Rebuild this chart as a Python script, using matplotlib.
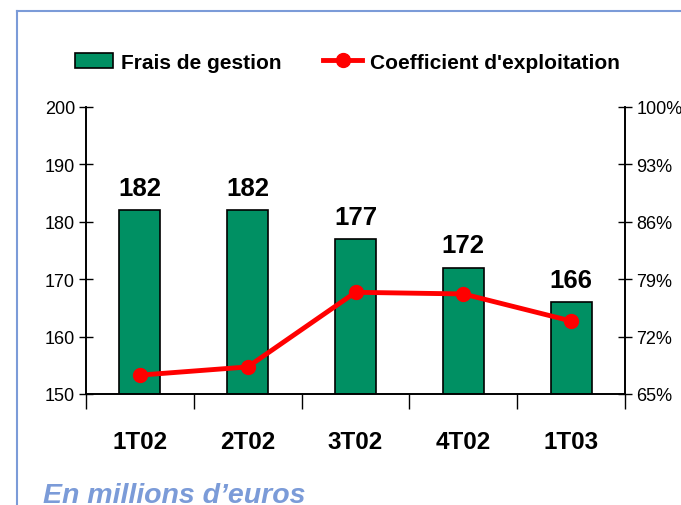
import matplotlib
matplotlib.use('Agg')
import matplotlib.pyplot as plt
from matplotlib.lines import Line2D
import numpy as np

# data
quarters = ['1T02', '2T02', '3T02', '4T02', '1T03']
frais = [182, 182, 177, 172, 166]
coef = [67.3, 68.3, 77.4, 77.2, 73.9]
left_ticks = [150, 160, 170, 180, 190, 200]
right_ticks = [65, 72, 79, 86, 93, 100]

plt.rcParams['font.family'] = ['Liberation Sans', 'DejaVu Sans']

green = '#009063'
red = '#ff0000'
blue = '#7b9bd8'

fig = plt.figure(figsize=(6.81, 5.06), dpi=100)
ax = fig.add_axes([0.1263, 0.2194, 0.7915, 0.5672])
ax2 = ax.twinx()

x = np.arange(len(quarters))
bars = ax.bar(x, frais, width=0.38, color=green, edgecolor='black',
              linewidth=1.2, label='Frais de gestion', zorder=2)
for xi, v in zip(x, frais):
    ax.text(xi, v + 1.8, str(v), ha='center', va='bottom',
            fontsize=18.5, fontweight='bold')

ax.set_xlim(-0.5, len(quarters) - 0.5)
ax.set_ylim(150, 200)
ax.set_yticks(left_ticks)
ax.set_yticklabels([str(t) for t in left_ticks], fontsize=13)
ax.tick_params(axis='y', direction='inout', length=10, width=1, pad=3)

ax.set_xticks(x)
ax.set_xticklabels(quarters, fontsize=17.5, fontweight='bold')
ax.tick_params(axis='x', length=0, pad=26)
ax.set_xticks(np.arange(len(quarters) + 1) - 0.5, minor=True)
ax.tick_params(axis='x', which='minor', direction='out', length=11, width=1)

line, = ax2.plot(x, coef, color=red, linewidth=3.5, marker='o',
                 markersize=10, label="Coefficient d'exploitation", zorder=3)
ax2.set_ylim(65, 100)
ax2.set_yticks(right_ticks)
ax2.set_yticklabels(['%d%%' % t for t in right_ticks], fontsize=13)
ax2.tick_params(axis='y', direction='inout', length=10, width=1, pad=3)

for a in (ax, ax2):
    a.spines['top'].set_visible(False)
    for s in ('left', 'right', 'bottom'):
        a.spines[s].set_linewidth(1.2)

fig.legend(handles=[bars, line], loc='center', ncol=2,
           bbox_to_anchor=(0.51, 0.875), frameon=False,
           prop={'weight': 'bold', 'size': 15},
           handlelength=1.85, handleheight=0.75, columnspacing=2.0,
           handletextpad=0.38)

fig.text(0.063, 1 - 503 / 506, 'En millions d\u2019euros', color=blue,
         fontsize=20.5, fontweight='bold', style='italic',
         ha='left', va='baseline')

# blue frame around the slide
fig.add_artist(Line2D([0.025, 1.0], [0.976, 0.976], color=blue, lw=1.5))
fig.add_artist(Line2D([0.025, 0.025], [0.0, 0.976], color=blue, lw=1.5))

fig.savefig('out.png', dpi=100)
